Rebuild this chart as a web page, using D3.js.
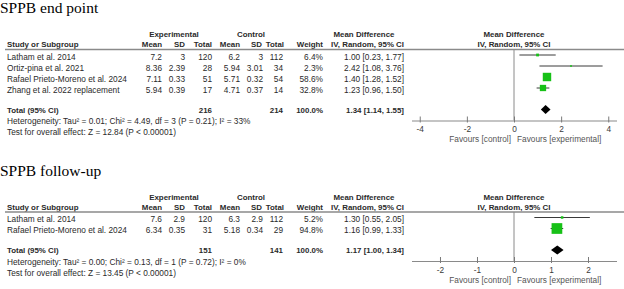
<!DOCTYPE html>
<html>
<head>
<meta charset="utf-8">
<script src="https://cdn.jsdelivr.net/npm/d3@7"></script>
<style>
  body { margin: 0; background: #fff; }
  svg { display: block; }
  text { font-family: Arial, "Liberation Sans", sans-serif; font-size: 8.3px; fill: #2a2a2a; }
  .title { font-family: "Times New Roman", "Liberation Serif", serif; font-size: 15.5px; fill: #000; }
  .bold { font-weight: bold; font-size: 7.9px; }
</style>
</head>
<body>
<svg id="chart"></svg>
<script>
// ---- panel 1 : SPPB end point ----
const studies1 = ['Latham et al. 2014', 'Ortiz-pina et al. 2021', 'Rafael Prieto-Moreno et al. 2024', 'Zhang et al. 2022 replacement'];
const expMean1 = ['7.2', '8.36', '7.11', '5.94'];
const expSD1 = ['3', '2.39', '0.33', '0.39'];
const expN1 = [120, 28, 51, 17];
const ctlMean1 = ['6.2', '5.94', '5.71', '4.71'];
const ctlSD1 = ['3', '3.01', '0.32', '0.37'];
const ctlN1 = [112, 34, 54, 14];
const weight1 = [6.4, 2.3, 58.6, 32.8];
const md1 = [1.00, 2.42, 1.40, 1.23];
const lo1 = [0.23, 1.08, 1.28, 0.96];
const hi1 = [1.77, 3.76, 1.52, 1.50];
const total1 = { exp: 216, ctl: 214, md: 1.34, lo: 1.14, hi: 1.55 };
const het1 = 'Heterogeneity: Tau\u00b2 = 0.01; Chi\u00b2 = 4.49, df = 3 (P = 0.21); I\u00b2 = 33%';
const test1 = 'Test for overall effect: Z = 12.84 (P < 0.00001)';
const ticks1 = [-4, -2, 0, 2, 4];

// ---- panel 2 : SPPB follow-up ----
const studies2 = ['Latham et al. 2014', 'Rafael Prieto-Moreno et al. 2024'];
const expMean2 = ['7.6', '6.34'];
const expSD2 = ['2.9', '0.35'];
const expN2 = [120, 31];
const ctlMean2 = ['6.3', '5.18'];
const ctlSD2 = ['2.9', '0.34'];
const ctlN2 = [112, 29];
const weight2 = [5.2, 94.8];
const md2 = [1.30, 1.16];
const lo2 = [0.55, 0.99];
const hi2 = [2.05, 1.33];
const total2 = { exp: 151, ctl: 141, md: 1.17, lo: 1.00, hi: 1.34 };
const het2 = 'Heterogeneity: Tau\u00b2 = 0.00; Chi\u00b2 = 0.13, df = 1 (P = 0.72); I\u00b2 = 0%';
const test2 = 'Test for overall effect: Z = 13.45 (P < 0.00001)';
const ticks2 = [-2, -1, 0, 1, 2];

class ForestPanel {

    constructor( config ) {
        this.config = config;
        this.svg = config.svg;
        this.init();
    }

    init() {
        let self = this;
        const c = self.config;
        self.g = self.svg.append('g')
            .attr('transform', `translate(0, ${c.top})`);

        self.rows = c.studies.map((s, i) => ({
            study: s, em: c.expMean[i], es: c.expSD[i], en: c.expN[i],
            cm: c.ctlMean[i], cs: c.ctlSD[i], cn: c.ctlN[i],
            w: c.weight[i], md: c.md[i], lo: c.lo[i], hi: c.hi[i]
        }));

        self.yscale = d3.scaleLinear()
            .domain([0, 1])
            .range([55, 66]);
        self.totalY = self.yscale(self.rows.length - 1) + 21.5;
        self.axisY = self.totalY + 11;

        self.xscale = d3.scaleLinear()
            .domain(c.domain)
            .range([411.5, 616.5]);

        self.size = d3.scaleSqrt()
            .domain([0, 100])
            .range([0, 11]);
    }

    render() {
        let self = this;
        const c = self.config;
        const g = self.g;
        const f2 = d3.format('.2f');

        g.append('text').attr('class', 'title')
            .attr('x', 0).attr('y', 13)
            .text(c.title);

        // column headers
        const heads = [
            { t: 'Experimental', x: 174, a: 'middle', y: 37 },
            { t: 'Control', x: 251, a: 'middle', y: 37 },
            { t: 'Mean Difference', x: 364, a: 'middle', y: 37 },
            { t: 'Mean Difference', x: 514, a: 'middle', y: 37 },
            { t: 'Study or Subgroup', x: 7, a: 'start', y: 47 },
            { t: 'Mean', x: 162, a: 'end', y: 47 },
            { t: 'SD', x: 185, a: 'end', y: 47 },
            { t: 'Total', x: 212, a: 'end', y: 47 },
            { t: 'Mean', x: 240, a: 'end', y: 47 },
            { t: 'SD', x: 262, a: 'end', y: 47 },
            { t: 'Total', x: 284, a: 'end', y: 47 },
            { t: 'Weight', x: 323, a: 'end', y: 47 },
            { t: 'IV, Random, 95% CI', x: 404, a: 'end', y: 47 },
            { t: 'IV, Random, 95% CI', x: 514, a: 'middle', y: 47 }
        ];
        g.selectAll('text.head').data(heads).join('text')
            .attr('class', 'head bold')
            .attr('x', d => d.x).attr('y', d => d.y)
            .attr('text-anchor', d => d.a)
            .text(d => d.t);

        g.append('line')
            .attr('x1', 5).attr('x2', 624)
            .attr('y1', 49.5).attr('y2', 49.5)
            .attr('stroke', '#8a8a8a').attr('stroke-width', 1.4);

        // study rows
        const cols = [
            { k: d => d.study, x: 7, a: 'start' },
            { k: d => d.em, x: 162, a: 'end' },
            { k: d => d.es, x: 185, a: 'end' },
            { k: d => d.en, x: 212, a: 'end' },
            { k: d => d.cm, x: 240, a: 'end' },
            { k: d => d.cs, x: 263, a: 'end' },
            { k: d => d.cn, x: 283, a: 'end' },
            { k: d => d.w.toFixed(1) + '%', x: 323, a: 'end' },
            { k: d => `${f2(d.md)} [${f2(d.lo)}, ${f2(d.hi)}]`, x: 404, a: 'end' }
        ];
        cols.forEach(col => {
            g.append('g').selectAll('text').data(self.rows).join('text')
                .attr('x', col.x)
                .attr('y', (d, i) => self.yscale(i) + 4.5)
                .attr('text-anchor', col.a)
                .text(col.k);
        });

        // total row
        const tr = [
            { t: 'Total (95% CI)', x: 7, a: 'start' },
            { t: c.total.exp, x: 212, a: 'end' },
            { t: c.total.ctl, x: 283, a: 'end' },
            { t: '100.0%', x: 323, a: 'end' },
            { t: `${f2(c.total.md)} [${f2(c.total.lo)}, ${f2(c.total.hi)}]`, x: 404, a: 'end' }
        ];
        g.append('g').selectAll('text').data(tr).join('text')
            .attr('class', 'bold')
            .attr('x', d => d.x).attr('y', self.totalY + 3)
            .attr('text-anchor', d => d.a)
            .text(d => d.t);

        g.append('text').attr('x', 7).attr('y', self.totalY + 14.5).text(c.het);
        g.append('text').attr('x', 7).attr('y', self.totalY + 25.5).text(c.test);

        // zero line
        g.append('line')
            .attr('x1', self.xscale(0)).attr('x2', self.xscale(0))
            .attr('y1', 49.5).attr('y2', self.axisY)
            .attr('stroke', '#8a8a8a').attr('stroke-width', 1);

        // axis
        const axis = d3.axisBottom(self.xscale)
            .tickValues(c.ticks)
            .tickFormat(d => String(d))
            .tickSize(0)
            .tickPadding(6);
        const ag = g.append('g')
            .attr('transform', `translate(0, ${self.axisY})`)
            .call(axis);
        ag.select('.domain').attr('stroke', '#8a8a8a').attr('stroke-width', 1.2);
        ag.selectAll('.tick text')
            .attr('font-family', null).attr('font-size', null)
            .style('fill', '#3a3a3a');
        ag.selectAll('.tick').append('line')
            .attr('y1', -4).attr('y2', 2)
            .attr('stroke', '#7a7a7a');

        g.append('text')
            .attr('x', self.xscale(0) - 3).attr('y', self.axisY + 21.5)
            .attr('text-anchor', 'end').style('fill', '#555')
            .text('Favours [control]');
        g.append('text')
            .attr('x', self.xscale(0) + 3).attr('y', self.axisY + 21.5)
            .attr('text-anchor', 'start').style('fill', '#555')
            .text('Favours [experimental]');

        // CI lines and boxes
        g.append('g').selectAll('line').data(self.rows).join('line')
            .attr('x1', d => self.xscale(d.lo)).attr('x2', d => self.xscale(d.hi))
            .attr('y1', (d, i) => self.yscale(i)).attr('y2', (d, i) => self.yscale(i))
            .attr('stroke', '#3a3a3a').attr('stroke-width', 1);

        g.append('g').selectAll('rect').data(self.rows).join('rect')
            .attr('x', d => self.xscale(d.md) - self.size(d.w) / 2)
            .attr('y', (d, i) => self.yscale(i) - self.size(d.w) / 2)
            .attr('width', d => self.size(d.w))
            .attr('height', d => self.size(d.w))
            .attr('fill', '#17c117');

        // pooled diamond
        const ty = self.totalY;
        g.append('path')
            .attr('d', `M${self.xscale(c.total.lo)},${ty} L${self.xscale(c.total.md)},${ty - 4.5} L${self.xscale(c.total.hi)},${ty} L${self.xscale(c.total.md)},${ty + 4.5} Z`)
            .attr('fill', '#000');
    }
}

const svg = d3.select('#chart')
    .attr('width', 624)
    .attr('height', 289);

const p1 = new ForestPanel({
    svg: svg, top: 0, title: 'SPPB end point',
    studies: studies1, expMean: expMean1, expSD: expSD1, expN: expN1,
    ctlMean: ctlMean1, ctlSD: ctlSD1, ctlN: ctlN1, weight: weight1,
    md: md1, lo: lo1, hi: hi1, total: total1, het: het1, test: test1,
    ticks: ticks1, domain: [-4.35, 4.35]
});
p1.render();

const p2 = new ForestPanel({
    svg: svg, top: 162.5, title: 'SPPB follow-up',
    studies: studies2, expMean: expMean2, expSD: expSD2, expN: expN2,
    ctlMean: ctlMean2, ctlSD: ctlSD2, ctlN: ctlN2, weight: weight2,
    md: md2, lo: lo2, hi: hi2, total: total2, het: het2, test: test2,
    ticks: ticks2, domain: [-2.77, 2.77]
});
p2.render();
</script>
</body>
</html>
